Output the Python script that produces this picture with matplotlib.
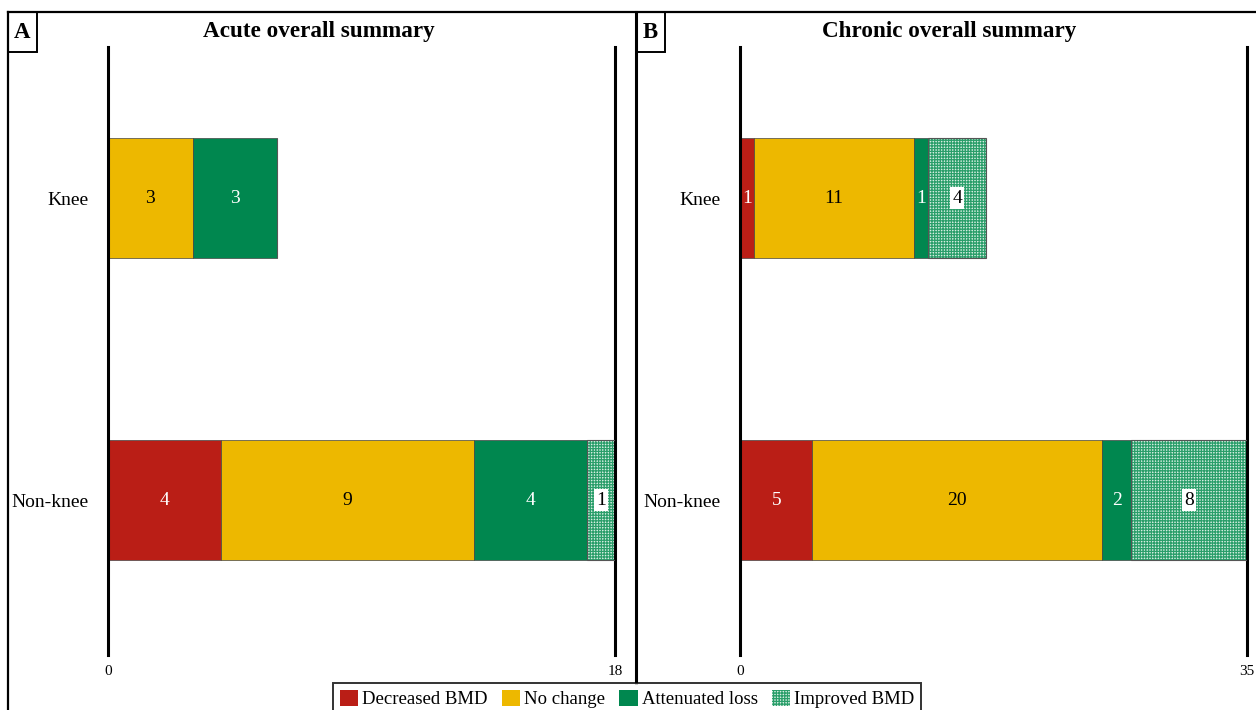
import matplotlib
matplotlib.use("Agg")
import matplotlib.pyplot as plt
from matplotlib.lines import Line2D
from matplotlib.patches import Patch, Rectangle
import numpy as np

plt.rcParams['font.family'] = ['Liberation Serif', 'DejaVu Serif']
plt.rcParams['hatch.linewidth'] = 0.9

categories = ["Knee", "Non-knee"]
series_names = ["Decreased BMD", "No change", "Attenuated loss", "Improved BMD"]
acute = {
    "Decreased BMD": [0, 4],
    "No change": [3, 9],
    "Attenuated loss": [3, 4],
    "Improved BMD": [0, 1],
}
chronic = {
    "Decreased BMD": [1, 5],
    "No change": [11, 20],
    "Attenuated loss": [1, 2],
    "Improved BMD": [4, 8],
}
acute_max = 18
chronic_max = 35
titles = ["Acute overall summary", "Chronic overall summary"]
panel_letters = ["A", "B"]

colors = {
    "Decreased BMD": "#BA1E16",
    "No change": "#EDB800",
    "Attenuated loss": "#00874F",
    "Improved BMD": "#A6D9BF",
}
text_colors = {
    "Decreased BMD": "white",
    "No change": "black",
    "Attenuated loss": "white",
    "Improved BMD": "black",
}
hatch_face = "#D6EEE1"
hatch_col = "#2A9E6A"

W, H = 1256, 710
fig = plt.figure(figsize=(W / 100, H / 100), dpi=100)

ypos = [1, 0]  # Knee on top


def draw(ax, data, xmax):
    left = np.zeros(len(categories))
    for name in series_names:
        vals = np.array(data[name], dtype=float)
        if name == "Improved BMD":
            ax.barh(ypos, vals, left=left, height=0.4, color=hatch_face,
                    edgecolor=hatch_col, hatch="++++++", linewidth=0, zorder=2)
            ax.barh(ypos, vals, left=left, height=0.4, fill=False,
                    edgecolor="#555555", linewidth=0.8, zorder=3)
        else:
            ax.barh(ypos, vals, left=left, height=0.4, color=colors[name],
                    edgecolor="#444444", linewidth=0.5, zorder=2)
        for y, l, v in zip(ypos, left, vals):
            if v > 0:
                kw = {}
                if name == "Improved BMD":
                    kw = dict(bbox=dict(facecolor="white", edgecolor="none", pad=1.5))
                ax.text(l + v / 2, y, f"{int(v)}", ha="center", va="center",
                        fontsize=14, color=text_colors[name], zorder=4, **kw)
        left += vals
    ax.set_xlim(0, xmax)
    ax.set_ylim(-0.513, 1.5)
    ax.set_yticks(ypos)
    ax.set_yticklabels(categories, fontsize=14)
    ax.set_xticks([0, xmax])
    ax.set_xticklabels(["0", str(xmax)], fontsize=11)
    ax.tick_params(axis='x', length=0, pad=7)
    ax.tick_params(axis='y', length=0, pad=14)
    for s in ["top", "bottom"]:
        ax.spines[s].set_visible(False)
    for s in ["left", "right"]:
        ax.spines[s].set_linewidth(2.2)


bottom = 1 - 655 / H
top = 1 - 47 / H
axA = fig.add_axes([108 / W, bottom, (615 - 108) / W, top - bottom])
axB = fig.add_axes([740 / W, bottom, (1247 - 740) / W, top - bottom])
draw(axA, acute, acute_max)
draw(axB, chronic, chronic_max)

# titles centered on panels
fig.text(319 / W, 1 - 31 / H, titles[0], ha="center", va="center",
         fontsize=16.7, fontweight="bold")
fig.text(949 / W, 1 - 31 / H, titles[1], ha="center", va="center",
         fontsize=16.7, fontweight="bold")

# panel frame lines
lw = 1.6
fig.add_artist(Line2D([8 / W, 1], [1 - 12 / H, 1 - 12 / H], color="black", lw=lw, transform=fig.transFigure))
fig.add_artist(Line2D([8 / W, 8 / W], [0, 1 - 12 / H], color="black", lw=lw, transform=fig.transFigure))
fig.add_artist(Line2D([636 / W, 636 / W], [1 - 683 / H, 1 - 12 / H], color="black", lw=2.2, transform=fig.transFigure))

# panel letters boxes
for x0, letter in [(8, panel_letters[0]), (636, panel_letters[1])]:
    fig.add_artist(Rectangle((x0 / W, 1 - 52 / H), 29 / W, 40 / H, fill=False,
                             edgecolor="black", lw=1.4, transform=fig.transFigure))
    fig.text((x0 + 14.5) / W, 1 - 32 / H, letter, ha="center", va="center",
             fontsize=16.5, fontweight="bold")

# legend
handles = []
for name in series_names:
    if name == "Improved BMD":
        handles.append(Patch(facecolor=hatch_face, edgecolor=hatch_col, hatch="++++++", linewidth=0))
    else:
        handles.append(Patch(facecolor=colors[name], edgecolor="none"))
leg = fig.legend(handles, series_names, loc="upper center", bbox_to_anchor=(627 / W, 1 - 683 / H),
                 ncol=4, fontsize=13.5, frameon=True, fancybox=False, handlelength=1.0,
                 handleheight=1.0, handletextpad=0.2, columnspacing=0.75, borderpad=0.35,
                 borderaxespad=0)
leg.get_frame().set_edgecolor("black")
leg.get_frame().set_linewidth(1.4)

fig.savefig("out.png", dpi=100)
